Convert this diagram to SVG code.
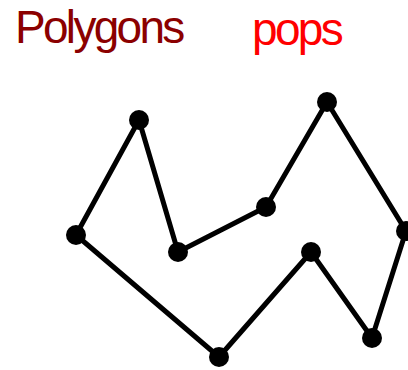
<svg xmlns="http://www.w3.org/2000/svg" width="408" height="370" viewBox="0 0 408 370">
<style>
.t{font-family:"Liberation Sans",Arial,sans-serif;font-size:46px;letter-spacing:-2.7px}
.e{stroke:#000;stroke-width:5;fill:none;stroke-linejoin:round}
.v{fill:#000}
</style>
<rect width="408" height="370" fill="#fff"/>
<text class="t" x="15" y="43" fill="#8b0000">Polygons</text>
<text class="t" x="252" y="45" fill="#ff0000">pops</text>
<g id="edges">
<polygon class="e" points="139,120 178,252 266,207 327,102 406,231 372,338 311,252 219,357 76,235"/>
</g>
<g id="v1"><circle class="v" cx="139" cy="120" r="10"/></g>
<g id="v2"><circle class="v" cx="178" cy="252" r="10"/></g>
<g id="v3"><circle class="v" cx="266" cy="207" r="10"/></g>
<g id="v4"><circle class="v" cx="327" cy="102" r="10"/></g>
<g id="v5"><circle class="v" cx="406" cy="231" r="10"/></g>
<g id="v6"><circle class="v" cx="372" cy="338" r="10"/></g>
<g id="v7"><circle class="v" cx="311" cy="252" r="10"/></g>
<g id="v8"><circle class="v" cx="219" cy="357" r="10"/></g>
<g id="v9"><circle class="v" cx="76" cy="235" r="10"/></g>
</svg>
